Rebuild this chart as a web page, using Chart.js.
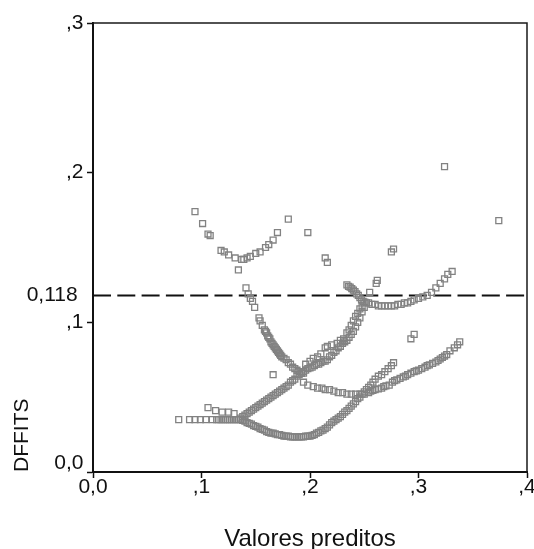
<!DOCTYPE html>
<html>
<head>
<meta charset="utf-8">
<script src="https://cdn.jsdelivr.net/npm/chart.js@4.4.1/dist/chart.umd.min.js"></script>
<style>
  html, body { margin: 0; padding: 0; background: #fff; }
  #wrap { width: 534px; height: 549px; position: relative; }
</style>
</head>
<body>
<div id="wrap"><canvas id="grafico"></canvas></div>
<script>
// eixos
var xTicks = [0, 0.1, 0.2, 0.3, 0.4];
var yTicks = [0, 0.1, 0.118, 0.2, 0.3];
var pontoCorte = 0.118;

// curva de cima (em U) a esquerda
var curvaSuperior = [[0.094,0.174],[0.101,0.166],[0.106,0.159],[0.108,0.158],[0.118,0.148],[0.121,0.147],
  [0.125,0.145],[0.131,0.143],[0.137,0.142],[0.139,0.142],[0.142,0.143],[0.145,0.144],[0.150,0.146],
  [0.154,0.147],[0.159,0.150],[0.162,0.152],[0.166,0.155],[0.170,0.160]];

// pontos soltos
var isolados = [[0.180,0.169],[0.198,0.160],[0.214,0.143],[0.216,0.140],[0.134,0.135],[0.324,0.204],
  [0.374,0.168],[0.277,0.149],[0.275,0.147],[0.262,0.128],[0.261,0.126],[0.255,0.120],[0.166,0.065],
  [0.293,0.089],[0.296,0.092]];

// ramo que desce a partir de 0,14
var ramoDescendente = [[0.141,0.123],[0.143,0.119],[0.145,0.116],[0.147,0.114],[0.149,0.110],[0.153,0.103],
  [0.154,0.101],[0.156,0.098],[0.158,0.095],[0.159,0.094],[0.160,0.093],[0.161,0.091],[0.162,0.090],
  [0.163,0.089],[0.164,0.087],[0.165,0.086],[0.166,0.085],[0.167,0.084],[0.168,0.083],[0.169,0.082],
  [0.170,0.081],[0.171,0.080],[0.172,0.079],[0.173,0.078],[0.174,0.077],[0.176,0.076],[0.178,0.075],
  [0.180,0.073],[0.182,0.072],[0.184,0.070],[0.186,0.069],[0.188,0.068],[0.190,0.067],[0.192,0.066],
  [0.194,0.066]];

// ramo que sobe da esquerda, faixa cheia
var ramoAscendente = [[0.136,0.036],[0.138,0.037],[0.140,0.038],[0.142,0.039],[0.144,0.040],[0.146,0.041],
  [0.148,0.042],[0.150,0.043],[0.152,0.044],[0.154,0.045],[0.156,0.046],[0.158,0.047],[0.160,0.048],
  [0.162,0.049],[0.164,0.050],[0.166,0.051],[0.168,0.052],[0.170,0.053],[0.172,0.054],[0.174,0.055],
  [0.176,0.056],[0.178,0.057],[0.180,0.058],[0.182,0.060],[0.184,0.061],[0.186,0.062],[0.188,0.064],
  [0.190,0.065],[0.192,0.066],[0.194,0.067],[0.196,0.068],[0.198,0.069],[0.200,0.0695],[0.202,0.070],
  [0.204,0.071],[0.206,0.072],[0.208,0.072],[0.210,0.073],[0.212,0.074],[0.214,0.074],[0.216,0.075],
  [0.218,0.077],[0.220,0.078],[0.222,0.080],[0.224,0.081],[0.226,0.083],[0.228,0.084],[0.230,0.086],
  [0.232,0.087],[0.234,0.088],[0.236,0.090],[0.238,0.092],[0.240,0.094],[0.242,0.097],[0.244,0.100],
  [0.246,0.103],[0.248,0.107],[0.250,0.110]];

// quadrados abertos acima da faixa
var ramoAberto = [[0.196,0.072],[0.200,0.074],[0.203,0.076],[0.207,0.077],[0.210,0.079],[0.214,0.083],
  [0.216,0.084],[0.220,0.085],[0.225,0.086],[0.228,0.088],[0.231,0.089],[0.234,0.093],[0.236,0.095],
  [0.238,0.098],[0.240,0.101],[0.242,0.104],[0.244,0.106],[0.246,0.109],[0.248,0.111]];

var ramoIngreme = [[0.234,0.125],[0.2355,0.124],[0.237,0.1235],[0.2385,0.1225],[0.240,0.1215],
  [0.2415,0.1205],[0.243,0.119],[0.2445,0.118],[0.246,0.1165],[0.2475,0.115],[0.249,0.114],
  [0.2505,0.1135],[0.252,0.113]];

// curva de cima a direita
var curvaDireita = [[0.254,0.113],[0.257,0.112],[0.260,0.112],[0.263,0.111],[0.266,0.111],[0.269,0.111],
  [0.272,0.111],[0.275,0.111],[0.278,0.111],[0.281,0.112],[0.284,0.112],[0.287,0.113],[0.290,0.113],
  [0.293,0.114],[0.296,0.115],[0.300,0.116],[0.304,0.117],[0.308,0.118],[0.312,0.120],[0.316,0.123],
  [0.320,0.126],[0.324,0.129],[0.327,0.132],[0.331,0.134]];

var ramoMedio = [[0.194,0.060],[0.198,0.058],[0.203,0.057],[0.207,0.056],[0.211,0.056],[0.214,0.055],
  [0.218,0.055],[0.222,0.054],[0.226,0.053],[0.230,0.053],[0.234,0.052],[0.238,0.052],[0.242,0.052],
  [0.246,0.052],[0.250,0.052],[0.254,0.053]];

var ramoInferiorDireito = [[0.256,0.054],[0.258,0.0545],[0.260,0.055],[0.263,0.0555],[0.266,0.056],
  [0.268,0.057],[0.270,0.0575],[0.273,0.058],[0.276,0.060],[0.278,0.061],[0.280,0.0615],[0.283,0.0625],
  [0.286,0.0635],[0.288,0.064],[0.290,0.065],[0.293,0.066],[0.296,0.067],[0.298,0.0675],[0.300,0.068],
  [0.303,0.069],[0.306,0.070],[0.308,0.071],[0.310,0.0715],[0.313,0.0725],[0.316,0.0735],[0.318,0.0745],
  [0.320,0.0755],[0.322,0.0765],[0.324,0.0775],[0.326,0.0785],[0.329,0.081],[0.333,0.083],[0.336,0.085],
  [0.338,0.087]];

var baseEsquerda = [[0.079,0.035],[0.089,0.035],[0.094,0.035],[0.099,0.035],[0.104,0.035],[0.110,0.035],
  [0.114,0.035],[0.116,0.035],[0.118,0.035],[0.120,0.035],[0.122,0.035],[0.124,0.035],[0.126,0.035],
  [0.128,0.035],[0.130,0.035],[0.132,0.035],[0.134,0.035],
  [0.106,0.043],[0.113,0.041],[0.119,0.040],[0.125,0.040],[0.130,0.039]];

// curva de baixo (em U)
var curvaInferior = [[0.136,0.035],[0.138,0.0345],[0.140,0.034],[0.142,0.033],[0.144,0.0325],[0.146,0.032],
  [0.148,0.031],[0.150,0.0305],[0.152,0.030],[0.154,0.029],[0.156,0.0285],[0.158,0.028],[0.160,0.027],
  [0.162,0.0265],[0.164,0.026],[0.166,0.026],[0.168,0.0255],[0.170,0.025],[0.172,0.025],[0.174,0.0245],
  [0.176,0.024],[0.178,0.024],[0.180,0.024],[0.182,0.0235],[0.184,0.0235],[0.186,0.0235],[0.188,0.0235],
  [0.190,0.0235],[0.192,0.0235],[0.194,0.0235],[0.196,0.024],[0.198,0.024],[0.200,0.024],[0.202,0.0245],
  [0.204,0.025],[0.206,0.026],[0.208,0.0265],[0.210,0.0275],[0.212,0.028],[0.214,0.029],[0.216,0.030],
  [0.218,0.0315],[0.220,0.033],[0.222,0.034],[0.224,0.035],[0.226,0.036],[0.228,0.037],[0.230,0.0385],
  [0.232,0.040],[0.234,0.041],[0.236,0.0425],[0.238,0.044],[0.240,0.0455],[0.242,0.047],[0.244,0.049],
  [0.246,0.050],[0.248,0.052],[0.250,0.0535],[0.252,0.055],[0.254,0.0565]];

var ramoCurto = [[0.256,0.058],[0.258,0.060],[0.260,0.062],[0.263,0.064],[0.266,0.065],[0.269,0.067],
  [0.272,0.069],[0.275,0.071],[0.277,0.073]];

function rotulo(v) {
  if (v === 0) return '0,0';
  if (Math.abs(v - pontoCorte) < 1e-9) return '0,118 ';
  return ',' + Math.round(v * 10);
}

var todos = [].concat(curvaSuperior, isolados, ramoDescendente, ramoAscendente, ramoAberto, ramoIngreme,
  curvaDireita, ramoMedio, ramoInferiorDireito, baseEsquerda, curvaInferior, ramoCurto)
  .map(function(p){ return {x: p[0], y: p[1]}; });

// moldura de cima e da direita
var moldura = {
  id: 'moldura',
  afterDraw: function(chart) {
    var a = chart.chartArea, ctx = chart.ctx;
    ctx.save();
    ctx.strokeStyle = '#1a1a1a';
    ctx.lineWidth = 1.5;
    ctx.beginPath();
    ctx.moveTo(a.left, a.top);
    ctx.lineTo(a.right, a.top);
    ctx.lineTo(a.right, a.bottom);
    ctx.stroke();
    ctx.restore();
  }
};

var fonte = "'Liberation Sans', Arial, sans-serif";

var ctx = document.getElementById('grafico').getContext('2d');
var grafico = new Chart(ctx, {
  type: 'scatter',
  data: {
    datasets: [{
      data: todos,
      pointStyle: 'rect',
      pointRadius: 4.2,
      pointHoverRadius: 4.2,
      borderWidth: 1.3,
      borderColor: '#828282',
      backgroundColor: 'rgba(0,0,0,0)'
    }, {
      type: 'line',
      data: [{x: xTicks[0], y: pontoCorte}, {x: xTicks[xTicks.length - 1], y: pontoCorte}],
      borderColor: '#111',
      borderWidth: 2,
      borderDash: [18, 6.3],
      pointRadius: 0,
      fill: false
    }]
  },
  options: {
    responsive: true,
    maintainAspectRatio: false,
    animation: false,
    devicePixelRatio: 1,
    layout: { padding: { top: 23, right: 7, left: 0, bottom: 0 } },
    plugins: { legend: { display: false }, tooltip: { enabled: false } },
    scales: {
      x: {
        type: 'linear',
        min: 0, max: 0.4,
        afterBuildTicks: function(s) { s.ticks = xTicks.map(function(v){ return {value: v}; }); },
        afterFit: function(s) { s.height = 77; s.paddingLeft = 0; s.paddingRight = 0; },
        border: { display: true, color: '#111', width: 2 },
        grid: { drawOnChartArea: false, drawTicks: true, tickLength: 6, tickColor: '#111', tickWidth: 1.5 },
        ticks: {
          autoSkip: false, maxRotation: 0, padding: -1.5, color: '#111',
          font: { family: fonte, size: 21, lineHeight: 1 },
          callback: function(v) { return rotulo(v); }
        },
        title: {
          display: true, text: 'Valores preditos', color: '#111',
          font: { family: fonte, size: 24, lineHeight: 0.8 },
          padding: { top: 0, bottom: 0 }
        }
      },
      y: {
        type: 'linear',
        min: 0, max: 0.3,
        afterBuildTicks: function(s) { s.ticks = yTicks.map(function(v){ return {value: v}; }); },
        afterFit: function(s) { s.width = 93; s.paddingTop = 0; s.paddingBottom = 0; },
        border: { display: true, color: '#111', width: 2 },
        grid: {
          drawOnChartArea: false, drawTicks: true, tickLength: 6, tickWidth: 1.5,
          tickColor: function(c) { return (c.tick && c.tick.value === pontoCorte) ? 'rgba(0,0,0,0)' : '#111'; }
        },
        ticks: {
          autoSkip: false, padding: 3.5, color: '#111',
          font: { family: fonte, size: 21, lineHeight: 0.85 },
          callback: function(v) { return v === 0 ? ['0,0', ''] : rotulo(v); }
        },
        title: {
          display: true, text: 'DFFITS', align: 'start', color: '#111',
          font: { family: fonte, size: 21 },
          padding: { top: 10, bottom: 0 }
        }
      }
    }
  },
  plugins: [moldura]
});
</script>
</body>
</html>
